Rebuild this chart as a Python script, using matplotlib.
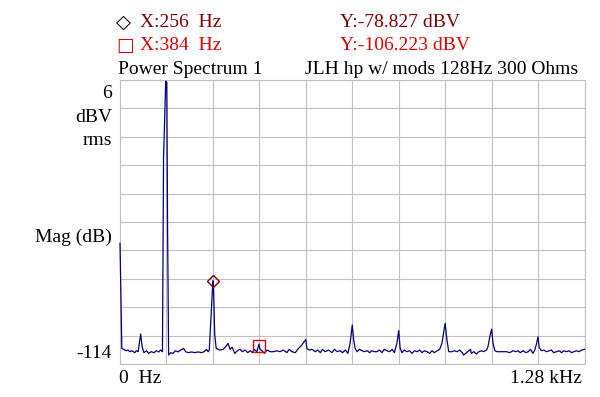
import matplotlib
matplotlib.use("Agg")
import matplotlib.pyplot as plt

# spectrum trace (Hz, dBV rms)
freq_hz = [0, 5, 13, 17, 22, 27, 33, 41, 45, 50, 57, 61, 66, 73, 79, 86, 94, 100, 107, 112, 117,
           120, 126, 129, 131, 134,
           140, 146, 153, 160, 167, 175, 181, 188, 197, 206, 215, 224, 232, 238, 243,
           246, 256, 257.5, 261, 265,
           275, 284, 290, 298, 303, 309, 316, 326, 331, 337, 345, 352, 359, 365, 370, 377,
           383, 386, 391, 398, 405, 414, 423, 432, 441, 450, 460, 466, 474, 483, 492, 501,
           512, 515, 521, 529, 538, 545, 552, 558, 565, 575, 584, 591, 598, 607, 613, 621,
           628, 634, 640, 644, 648, 653, 660, 667, 673, 681, 688, 694, 701, 708, 715, 722,
           728, 736, 743, 750, 756, 763, 768, 772, 777, 783, 791, 798, 805, 811, 819, 826,
           832, 839, 846, 853, 860, 866, 874, 881, 887, 896, 901, 906, 915, 921, 929, 936,
           943, 947, 955, 961, 966, 968, 975, 982, 989, 996, 1002, 1010, 1014, 1019, 1024,
           1028, 1033, 1039, 1046, 1056, 1065, 1074, 1083, 1091, 1097, 1103, 1111, 1118,
           1125, 1131, 1138, 1143, 1148, 1152, 1155, 1161, 1168, 1175, 1183, 1189, 1195,
           1203, 1210, 1217, 1223, 1230, 1238, 1244, 1251, 1258, 1265, 1272, 1280]
mag_db = [-63.0, -107.4, -108.1, -108.4, -108.1, -108.8, -108.4, -109.2, -108.4, -108.8, -101.3,
          -106.7, -109.2, -108.4, -109.5, -108.8, -109.2, -108.4, -108.9, -108.1, -108.8,
          -27.0, 5.5, 5.0, -55.0, -110.2,
          -109.2, -109.5, -108.4, -108.9, -108.1, -107.4, -108.8, -109.2, -108.9, -109.2,
          -108.9, -109.2, -108.8, -107.8, -108.8,
          -108.1, -78.827, -80.2, -101.5, -107.4,
          -108.1, -107.8, -106.9, -105.3, -107.8, -106.9, -109.5, -108.1, -107.8, -108.8,
          -108.1, -109.2, -108.4, -109.2, -107.8, -108.8,
          -105.6, -107.8, -108.4, -109.5, -108.1, -108.8, -108.8, -108.4, -108.8, -108.1,
          -109.2, -107.8, -108.8, -109.2, -107.4, -106.0,
          -103.6, -107.4, -108.1, -107.8, -108.8, -108.1, -109.2, -107.8, -108.8, -108.1,
          -109.2, -107.8, -108.8, -108.4, -109.2, -108.1,
          -109.5, -105.3, -97.5, -103.9, -107.4, -108.8, -107.8, -108.4, -108.8, -108.4,
          -109.2, -108.4, -108.8, -108.8, -108.1, -109.2,
          -107.8, -108.4, -108.8, -107.8, -109.2, -105.3, -99.9, -107.4, -109.2, -108.1,
          -108.8, -108.4, -109.5, -108.4, -108.8, -108.1,
          -109.2, -108.4, -108.8, -109.5, -108.4, -109.2, -108.4, -107.8, -105.3, -96.8,
          -103.9, -108.8, -108.8, -108.4, -108.8, -108.1,
          -109.2, -110.2, -109.2, -108.4, -107.8, -109.5, -108.8, -109.8, -108.8, -108.4,
          -108.8, -108.1, -106.7, -102.5, -99.3,
          -105.3, -108.4, -108.8, -108.8, -108.8, -108.8, -109.2, -108.4, -108.8, -108.4,
          -109.2, -108.4, -109.2,
          -108.8, -107.8, -109.5, -108.1, -105.3, -102.5, -106.9, -108.4, -108.1, -108.8,
          -108.4, -108.1, -109.2,
          -108.8, -108.4, -109.2, -108.4, -108.8, -108.4, -109.2, -108.8, -108.4, -108.8,
          -108.1, -107.8]

marker1 = (256, -78.827)
marker2 = (384, -106.223)

serif = ["Liberation Serif", "DejaVu Serif"]
dark_red = "#800000"
red = "#dd0000"

fig = plt.figure(figsize=(6, 3.97), dpi=100)
ax = fig.add_axes([120 / 600, 1 - 364 / 397, 464.5 / 600, 284 / 397])

ax.plot(freq_hz, mag_db, color="#000080", lw=0.9, clip_on=False, zorder=3)
ax.plot(*marker1, marker="D", ms=6.4, mfc="none", mec=dark_red, mew=1, zorder=4)
ax.plot(*marker2, marker="s", ms=8.6, mfc="none", mec=red, mew=1, zorder=4)

ax.set_xlim(0, 1280)
ax.set_ylim(-114, 6)
ax.set_xticks(range(0, 1281, 128))
ax.set_yticks(range(-114, 7, 12))
ax.tick_params(length=0, labelbottom=False, labelleft=False)
ax.grid(True, color="#c0c0c0", lw=0.8)
for s in ax.spines.values():
    s.set_color("#c0c0c0")
    s.set_linewidth(0.8)


def ftext(x, y, s, **kw):
    kw.setdefault("family", serif)
    kw.setdefault("fontsize", 14)
    fig.text(x / 600, 1 - y / 397, s, va="baseline", **kw)


# marker readouts
ftext(116, 28, "\u25c7", family=["DejaVu Sans"], fontsize=14, color="black")
ftext(140, 27, "X:256  Hz", color=dark_red)
ftext(340, 27, "Y:-78.827 dBV", color=dark_red)
ftext(116, 51, "\u25a1", family=["DejaVu Sans"], fontsize=13.5, color=red)
ftext(140, 50, "X:384  Hz", color=red)
ftext(340, 50, "Y:-106.223 dBV", color=red)
ftext(118, 74, "Power Spectrum 1")
ftext(305, 74, "JLH hp w/ mods 128Hz 300 Ohms")

# axis labels
ftext(112, 98, "6", ha="right")
ftext(112, 122, "dBV", ha="right")
ftext(112, 145, "rms", ha="right")
ftext(112, 242, "Mag (dB)", ha="right")
ftext(112, 358, "-114", ha="right")
ftext(119, 383, "0  Hz")
ftext(582, 383, "1.28 kHz", ha="right")

fig.savefig("out.png", dpi=100, facecolor="white")
